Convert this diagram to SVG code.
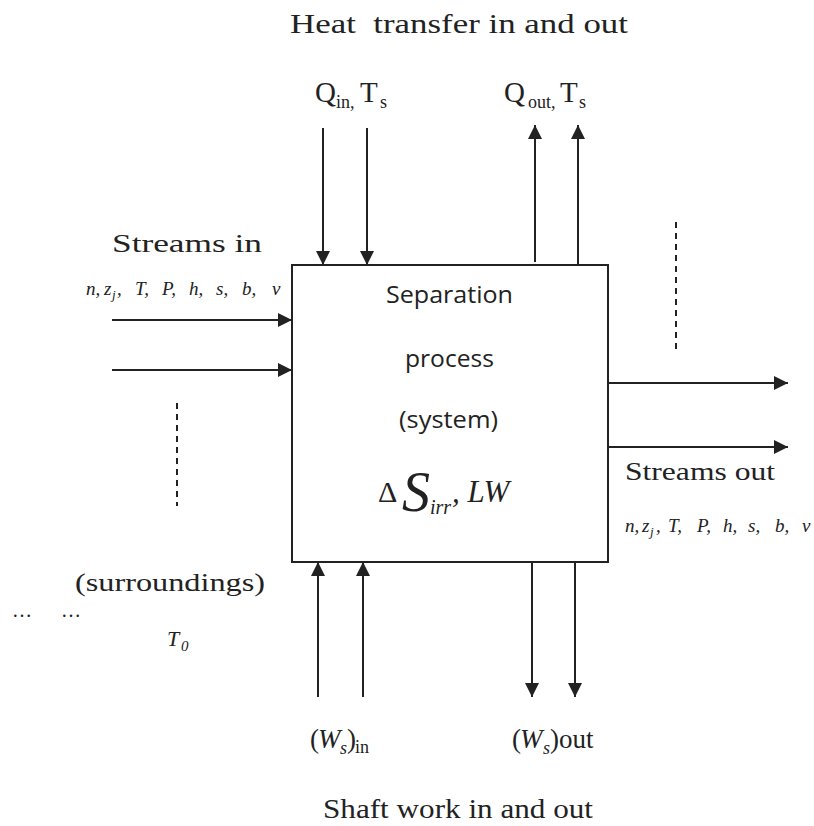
<svg xmlns="http://www.w3.org/2000/svg" width="814" height="826" viewBox="0 0 814 826">
<defs>
<marker id="ah" viewBox="0 0 14 14" refX="14" refY="7" markerWidth="14" markerHeight="14" markerUnits="userSpaceOnUse" orient="auto">
<path d="M0,0 L14,7 L0,14 z" fill="#222"/>
</marker>
<style>
.s{font-family:"Liberation Serif","Times New Roman",serif;fill:#222}
.i{font-style:italic}
.c{font-family:"Open Sans","Liberation Sans",sans-serif;fill:#222;font-size:24px}
.ln{stroke:#222;stroke-width:2;fill:none}
.ar{stroke:#222;stroke-width:2;fill:none;marker-end:url(#ah)}
.d{stroke:#222;stroke-width:2;stroke-dasharray:6,5;fill:none}
</style>
</defs>
<rect width="814" height="826" fill="#fff"/>
<g id="system">
<rect x="292" y="265" width="316" height="297" class="ln"/>
<text class="c" x="386" y="303" textLength="127" lengthAdjust="spacingAndGlyphs">Separation</text>
<text class="c" x="405" y="367" textLength="89" lengthAdjust="spacingAndGlyphs">process</text>
<text class="c" x="399" y="428" textLength="99" lengthAdjust="spacingAndGlyphs">(system)</text>
<text class="s" x="378" y="502" font-size="30">Δ</text>
<text class="s i" x="402" y="511" font-size="56">S</text>
<text class="s i" x="430" y="514" font-size="20">irr</text>
<text class="s i" x="452" y="502" font-size="31">, LW</text>
</g>
<g id="connectors">
<line x1="323" y1="128" x2="323" y2="265" class="ar"/>
<line x1="367" y1="128" x2="367" y2="265" class="ar"/>
<line x1="535" y1="262" x2="535" y2="125" class="ar"/>
<line x1="578" y1="265" x2="578" y2="125" class="ar"/>
<line x1="112" y1="320" x2="292" y2="320" class="ar"/>
<line x1="112" y1="370" x2="292" y2="370" class="ar"/>
<line x1="608" y1="383" x2="788" y2="383" class="ar"/>
<line x1="608" y1="447" x2="788" y2="447" class="ar"/>
<line x1="318" y1="697" x2="318" y2="562" class="ar"/>
<line x1="363" y1="697" x2="363" y2="562" class="ar"/>
<line x1="532" y1="562" x2="532" y2="697" class="ar"/>
<line x1="575" y1="562" x2="575" y2="697" class="ar"/>
<line x1="676" y1="222" x2="676" y2="354" class="d"/>
<line x1="177" y1="403" x2="177" y2="506" class="d"/>
</g>
<g id="heat-title"><text class="s" x="290" y="33" font-size="28" textLength="338" lengthAdjust="spacingAndGlyphs" xml:space="preserve">Heat  transfer in and out</text></g>
<g id="q-in">
<text class="s" x="315" y="102" font-size="29">Q</text>
<text class="s" x="336" y="108" font-size="18">in,</text>
<text class="s" x="360" y="102" font-size="29">T</text>
<text class="s" x="380" y="108" font-size="18">s</text>
</g>
<g id="q-out">
<text class="s" x="504" y="102" font-size="29">Q</text>
<text class="s" x="528" y="108" font-size="18">out,</text>
<text class="s" x="560" y="102" font-size="29">T</text>
<text class="s" x="579" y="108" font-size="18">s</text>
</g>
<g id="streams-in">
<text class="s" x="112" y="252" font-size="25" textLength="150" lengthAdjust="spacingAndGlyphs">Streams in</text>
<text class="s i" y="295" font-size="19"><tspan x="86">n,</tspan><tspan x="104">z</tspan><tspan x="112" dy="4" font-size="13">j</tspan><tspan x="117" dy="-4">,</tspan><tspan x="135">T,</tspan><tspan x="162">P,</tspan><tspan x="189">h,</tspan><tspan x="216">s,</tspan><tspan x="242">b,</tspan><tspan x="272">v</tspan></text>
</g>
<g id="streams-out">
<text class="s" x="625" y="480" font-size="25" textLength="150" lengthAdjust="spacingAndGlyphs">Streams out</text>
<text class="s i" y="532" font-size="19"><tspan x="625">n,</tspan><tspan x="642">z</tspan><tspan x="650" dy="4" font-size="13">j</tspan><tspan x="656" dy="-4">,</tspan><tspan x="668">T,</tspan><tspan x="697">P,</tspan><tspan x="723">h,</tspan><tspan x="748">s,</tspan><tspan x="775">b,</tspan><tspan x="802">v</tspan></text>
</g>
<g id="surroundings">
<text class="s" x="75" y="591" font-size="25" textLength="190" lengthAdjust="spacingAndGlyphs">(surroundings)</text>
<text class="s" y="617" font-size="20"><tspan x="12">…</tspan><tspan x="61">…</tspan></text>
<text class="s i" x="167" y="646" font-size="22">T</text>
<text class="s i" x="181" y="651" font-size="15">0</text>
</g>
<g id="ws-in">
<text class="s" x="310" y="748" font-size="27">(</text>
<text class="s i" x="318" y="748" font-size="27">W</text>
<text class="s i" x="340" y="754" font-size="18">s</text>
<text class="s" x="347" y="748" font-size="27">)</text>
<text class="s" x="355" y="753" font-size="18">in</text>
</g>
<g id="ws-out">
<text class="s" x="512" y="748" font-size="27">(</text>
<text class="s i" x="520" y="748" font-size="27">W</text>
<text class="s i" x="543" y="754" font-size="18">s</text>
<text class="s" x="550" y="748" font-size="27">)out</text>
</g>
<g id="shaft-title"><text class="s" x="323" y="818" font-size="28" textLength="270" lengthAdjust="spacingAndGlyphs">Shaft work in and out</text></g>
</svg>
